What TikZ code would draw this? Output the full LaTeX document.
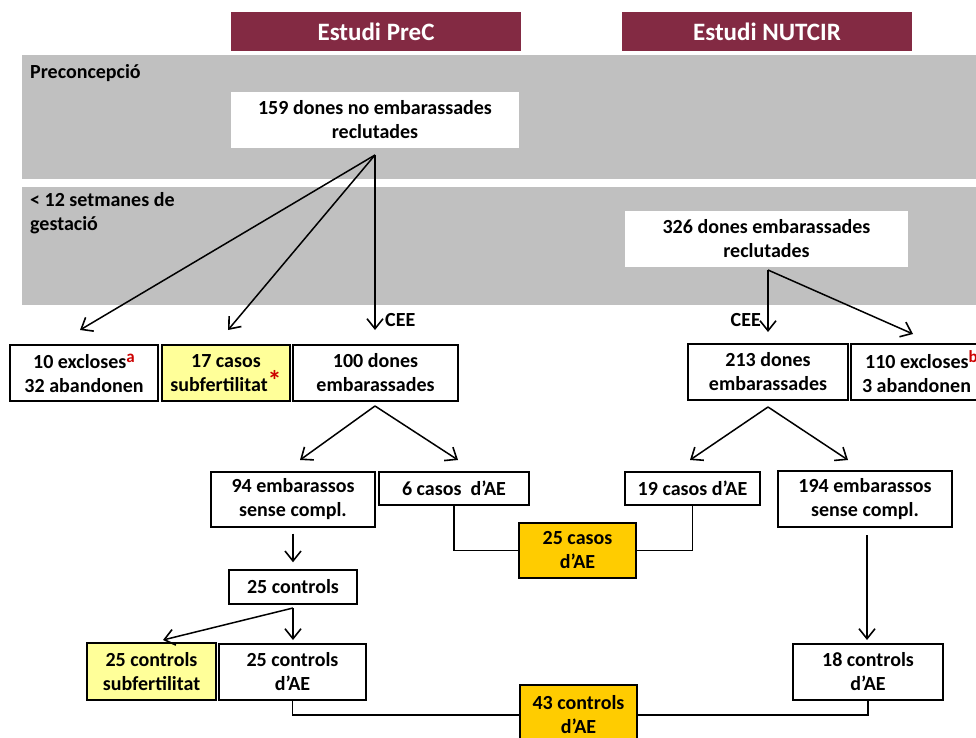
\documentclass[tikz,border=0pt]{standalone}
\usepackage{fontspec}
\setmainfont{Carlito}
\usetikzlibrary{arrows.meta}
\definecolor{maroon}{HTML}{832A43}
\definecolor{band}{HTML}{C0C0C0}
\definecolor{pale}{HTML}{FFFF99}
\definecolor{gold}{HTML}{FFCC00}
\definecolor{supred}{HTML}{CC0000}
\tikzset{
  box/.style={draw=black, line width=1.4pt, fill=white, inner sep=0pt, align=center},
  ybox/.style={box, fill=pale},
  gbox/.style={box, fill=gold},
  wbox/.style={fill=white, inner sep=0pt, align=center},
  head/.style={fill=maroon, inner sep=0pt, text=white, font=\fontsize{25}{29}\selectfont\bfseries},
  bandbox/.style={fill=band, inner sep=0pt},
  arr/.style={-{Straight Barb[length=10pt,width=16pt,line width=1.6pt]}, line width=1.5pt},
  ln/.style={line width=1.5pt},
  lab/.style={inner sep=0pt, align=left}
}
\newcommand{\rsup}[1]{\raisebox{6pt}{\textcolor{supred}{\fontsize{17}{17}\selectfont #1}}}
\newcommand{\rstar}{\raisebox{1pt}{\textcolor{supred}{\fontsize{28}{28}\selectfont *}}}
\newcommand{\bx}[7]{\node[#1, minimum width={(#5)-(#3)}, minimum height={(#6)-(#4)}] (#2) at ({((#3)+(#5))/2},{((#4)+(#6))/2}) {#7};}
\begin{document}
\begin{tikzpicture}[x=1pt,y=-1pt,font=\fontsize{20}{24}\selectfont\bfseries]
\useasboundingbox (0,0) rectangle (976,738);
\clip (0,0) rectangle (976,738);
% headers
\bx{head}{hprec}{231}{12}{521}{51}{Estudi PreC}
\bx{head}{hnut}{622}{12}{912}{51}{Estudi NUTCIR}
% bands
\bx{bandbox}{band1}{22}{55}{990}{179}{}
\bx{bandbox}{band2}{22}{187}{990}{305}{}
\node[lab, anchor=west] (lpre) at (30,73) {Preconcepció};
\node[lab, anchor=north west] (lges) at (30,192) {< 12 setmanes de\\gestació};
% top boxes
\bx{wbox}{b159}{231}{92}{519}{148}{159 dones no embarassades\\reclutades}
\bx{wbox}{b326}{625}{211}{908}{267}{326 dones embarassades\\reclutades}
% row 1
\bx{box}{bexc}{10}{345}{158}{401}{10 excloses\rsup{a}\\32 abandonen}
\bx{ybox}{bsub}{162}{345}{290}{401}{17 casos\\subfertilitat\rstar}
\bx{box}{b100}{293}{345}{458}{401}{100 dones\\embarassades}
\bx{box}{b213}{688}{344}{848}{400}{213 dones\\embarassades}
\bx{box}{b110}{851}{344}{992}{400}{110 excloses\rsup{b}\\3 abandonen\hspace*{10pt}}
% arrows from 159
\coordinate (o1) at (375,155);
\coordinate (e1) at (80,330);
\coordinate (e2) at (228,330);
\coordinate (e3) at (375,330);
\draw[arr] (o1) -- (e1);
\draw[arr] (o1) -- (e2);
\draw[arr] (o1) -- (e3);
\node[lab, anchor=west] (cee1) at (385,320) {CEE};
% arrows from 326
\coordinate (o2) at (768,270);
\coordinate (e4) at (768,332);
\coordinate (e5) at (913,334);
\draw[arr] (o2) -- (e4);
\draw[arr] (o2) -- (e5);
\node[lab, anchor=east] (cee2) at (761,320) {CEE};
% row 2
\bx{box}{b94}{211}{472}{375}{527}{94 embarassos\\sense compl.}
\bx{box}{b6}{379}{472}{529}{505}{6 casos\ \ d’AE}
\bx{box}{b19}{625}{472}{760}{505}{19 casos d’AE}
\bx{box}{b194}{778}{471}{952}{527}{194 embarassos\\sense compl.}
\coordinate (o3) at (375,406);
\coordinate (e6) at (300,460);
\coordinate (e7) at (458,460);
\draw[arr] (o3) -- (e6);
\draw[arr] (o3) -- (e7);
\coordinate (o4) at (768,407);
\coordinate (e8) at (690,460);
\coordinate (e9) at (848,460);
\draw[arr] (o4) -- (e8);
\draw[arr] (o4) -- (e9);
% 25 casos
\bx{gbox}{b25c}{519}{523}{636}{578}{25 casos\\d’AE}
\draw[ln] (b6.south) |- (b25c.west);
\draw[ln] (b19.south) |- (b25c.east);
% 25 controls
\bx{box}{b25}{229}{570}{357}{604}{25 controls}
\draw[arr, shorten <=6pt, shorten >=7pt] (b94.south) -- (b25.north);
% row 4
\bx{ybox}{b25s}{87}{643}{216}{700}{25 controls\\subfertilitat}
\bx{box}{b25a}{219}{644}{366}{700}{25 controls\\d’AE}
\bx{box}{b18}{793}{644}{943}{700}{18 controls\\d’AE}
\coordinate (o5) at (293,608);
\coordinate (e10) at (293,640);
\coordinate (e11) at (163,640);
\draw[arr] (o5) -- (e10);
\draw[arr] (o5) -- (e11);
\coordinate (o6) at (867,535);
\coordinate (e12) at (867,640);
\draw[arr] (o6) -- (e12);
% 43 controls
\bx{gbox}{b43}{520}{685}{637}{745}{43 controls\\d’AE}
\draw[ln] (b25a.south) |- (b43.west);
\draw[ln] (b18.south) |- (b43.east);
\end{tikzpicture}
\end{document}
